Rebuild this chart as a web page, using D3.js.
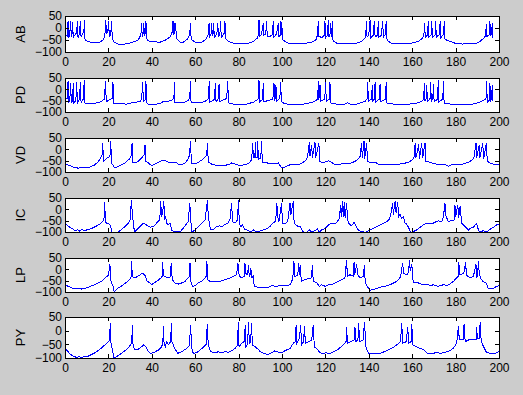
<!DOCTYPE html>
<html>
<head>
<meta charset="utf-8">
<script src="https://cdn.jsdelivr.net/npm/d3@7"></script>
<style>
    body { margin: 0; background: #cccccc; }
    svg { display: block; }
    .axis text { font-family: "Liberation Sans", Arial, sans-serif; font-size: 12px; fill: #000; }
    .axis line { stroke: #000; shape-rendering: crispEdges; }
    .ylab { font-family: "Liberation Sans", Arial, sans-serif; font-size: 13px; fill: #000; }
    .trace { fill: none; stroke: #0000ff; stroke-width: 1; shape-rendering: crispEdges; }
</style>
</head>
<body>
<div id="figure"></div>
<script>
const ctx = {
    W: 523,
    H: 395,
    LEFT: 65,
    RIGHT: 499,
    TOPS: [16, 78, 138, 198, 258, 317],
    BOTTOMS: [52, 112, 172, 232, 292, 358],
};

const cellNames = ["AB", "PD", "VD", "IC", "LP", "PY"];
const xTicks = [0, 20, 40, 60, 80, 100, 120, 140, 160, 180, 200];
const yTicks = [-100, -50, 0, 50];
const xDomain = [0, 200];
const yDomain = [-100, 50];

// traces: [time, voltage]
const abTrace = [[0,-40],[0.8,-30],[1.2,-35],[1.4,30],[1.7,-40],[2.2,-25],[2.6,28],[2.9,-38],[3.2,-30],[3.5,25],[3.8,-38],[4.5,-30],[5.4,-20],[5.7,30],[6.0,-40],[6.6,-25],[7.1,30],[7.4,-38],[8.2,-22],[8.7,-18],[8.9,32],[9.2,-45],[9.7,-52],[10.8,-57],[12,-59],[16,-59],[17.7,-49],[18.4,-28],[18.8,33],[19.1,-22],[19.7,-18],[20.1,27],[20.4,-35],[21.1,-28],[21.4,27],[21.8,-40],[22,-49],[22.6,-60],[24.6,-67],[27.6,-67],[30,-63],[32.3,-56],[33.8,-49],[35,-28],[35.3,20],[35.6,-38],[36,-25],[36.3,22],[36.6,-35],[37,-22],[37.3,27],[37.6,-40],[37.9,-49],[39.2,-57],[43.8,-59],[46,-52],[48.4,-38],[49.3,-22],[49.6,27],[49.9,-30],[50.2,27],[50.5,-25],[51,22],[51.3,-40],[51.9,-49],[53,-59],[54.5,-59],[56.4,-46],[57.5,-28],[57.8,22],[58.1,-40],[58.4,-49],[59.9,-59],[63,-59],[64.8,-49],[65.9,-28],[66.4,22],[66.7,-35],[67.3,-25],[67.6,20],[67.9,-35],[68.2,-25],[68.5,22],[68.8,-40],[70,-22],[70.4,22],[70.7,-35],[71.4,-25],[71.7,27],[72,-40],[73.4,-22],[73.7,31],[74,-45],[75.3,-56],[77.6,-63],[79.9,-63],[82.2,-66],[84.5,-63],[86.8,-56],[88.6,-42],[89.1,-30],[89.4,33],[89.7,-35],[90.5,-28],[91.4,20],[91.7,-30],[92.5,-25],[92.9,27],[93.2,-35],[94.5,-35],[95.5,-28],[96,27],[96.3,-38],[97.5,-25],[98.3,22],[98.6,-35],[99.2,-30],[99.4,27],[99.7,-30],[99.9,27],[100.2,-45],[100.3,-49],[101.4,-56],[102.8,-63],[111.4,-63],[113.7,-59],[115.7,-49],[116.4,-28],[116.7,31],[117,-35],[118.5,-40],[119.5,-30],[119.8,27],[120.1,-40],[121,-30],[121.3,33],[121.6,-38],[122.1,-28],[122.4,22],[122.7,-38],[122.9,-28],[123.2,31],[123.4,-49],[123.8,-56],[125.2,-63],[134.4,-63],[136.7,-56],[138.2,-42],[138.6,-30],[138.9,31],[139.2,-38],[140,-28],[140.6,33],[140.9,-40],[142,-30],[142.6,31],[142.9,-38],[144,-30],[144.4,27],[144.7,-38],[145.8,-30],[146.4,31],[146.7,-38],[147.6,-28],[148,27],[148.3,-45],[149,-56],[150.5,-63],[159.8,-63],[162.8,-56],[164.8,-42],[165.4,-30],[165.7,22],[166,-38],[167.1,-28],[167.4,27],[167.7,-38],[168.7,-30],[169,27],[169.3,-38],[170.5,-30],[170.8,27],[171.1,-38],[172.5,-28],[172.9,31],[173.2,-40],[174.4,-28],[174.8,31],[175.1,-45],[175.6,-49],[177.4,-56],[179.7,-63],[183.3,-67],[186,-63],[189.7,-63],[191.2,-56],[193.1,-42],[193.9,-30],[194.1,17],[194.4,-35],[195.5,-28],[195.8,31],[196.1,-35],[196.6,-25],[196.9,22],[197.2,-42]];

const pdTrace = [[0,-46],[0.8,-40],[1.2,-38],[1.4,35],[1.7,-60],[2.2,-50],[2.6,28],[2.9,-60],[3.5,-48],[3.8,28],[4.1,-60],[5,-50],[5.4,31],[5.7,-60],[6.6,-45],[7.1,31],[7.4,-60],[8.3,-45],[8.9,40],[9.2,-60],[11.5,-63],[14.6,-60],[16.9,-53],[18.1,-43],[18.7,35],[19,-55],[20.5,-45],[21.8,-40],[22.1,31],[22.4,-60],[22.7,-63],[28.4,-65],[30.7,-60],[33,-56],[34.6,-53],[35.3,-43],[35.8,31],[36.1,-55],[37,-45],[37.3,35],[37.6,-60],[38.4,-65],[42.2,-65],[44.5,-60],[45.3,-53],[46.5,-56],[49.2,-48],[50.2,-40],[50.4,31],[50.7,-60],[54.5,-60],[56.8,-48],[57.5,-40],[57.8,35],[58.1,-60],[62.2,-60],[64.5,-53],[66,-43],[66.5,35],[66.8,-56],[68.8,-45],[69.3,28],[69.6,-53],[70.6,-43],[71,25],[71.3,-55],[74.5,-40],[75,35],[75.3,-60],[77.6,-65],[80.6,-68],[83.7,-65],[86.8,-57],[88.6,-46],[89.2,-38],[89.4,40],[89.7,-55],[91,-45],[91.4,28],[91.7,-55],[95.8,-43],[96.3,28],[96.6,-50],[96.9,-40],[97.2,21],[97.5,-53],[99,-40],[99.4,31],[99.7,-55],[100.6,-60],[102.2,-65],[106.8,-68],[108.3,-68],[111.4,-63],[114.4,-56],[116,-48],[116.5,-38],[116.7,35],[117,-48],[117.5,21],[117.8,-53],[119.7,-43],[120.1,31],[120.4,-55],[121.8,-43],[122.1,31],[122.4,-60],[125.2,-65],[129,-65],[130.2,-60],[131.5,-65],[134.4,-65],[136,-60],[138.3,-53],[139.2,-43],[139.5,31],[139.8,-53],[141.3,-43],[141.6,21],[141.9,-50],[142.6,-43],[142.9,31],[143.2,-55],[144.9,-43],[145.2,25],[145.5,-55],[147.7,-43],[148,31],[148.3,-60],[151.3,-65],[157.4,-66],[161.3,-63],[164.4,-53],[165.3,-43],[165.6,28],[165.9,-50],[166.4,-43],[166.7,21],[167,-53],[168.2,-43],[168.5,31],[168.8,-53],[169.5,-43],[169.8,25],[170.1,-55],[171.7,-43],[172,40],[172.3,-55],[174.1,-43],[174.4,35],[174.7,-60],[177.4,-65],[182,-68],[186.5,-68],[189,-63],[192,-53],[194,-43],[194.3,35],[194.6,-60],[195.5,-48],[195.8,28],[196.1,-50],[196.6,-43],[196.9,21],[197.2,-50]];

const vdTrace = [[0,-68],[1.5,-69],[3,-75],[4.1,-81],[5,-78],[6.1,-84],[7.2,-79],[8.4,-82],[9.7,-78],[10.9,-81],[12.3,-75],[13.8,-68],[15.4,-53],[16.4,-38],[17.1,-24],[17.4,28],[17.7,-53],[18.6,-46],[19.5,-38],[20.7,-31],[21.1,35],[21.4,-60],[22.7,-79],[23.8,-78],[25.3,-72],[27.6,-60],[29.6,-43],[30.4,-31],[30.9,28],[31.2,-57],[32.3,-60],[33.8,-53],[35.3,-38],[36.4,-24],[36.9,21],[37.2,-53],[38.4,-60],[39.9,-72],[41.5,-65],[43,-57],[44.5,-50],[46.1,-48],[47.6,-57],[48.7,-56],[49.9,-57],[51.1,-56],[52.2,-65],[53.8,-68],[55.3,-60],[56.5,-46],[57.3,-28],[57.9,35],[58.2,-60],[59.9,-65],[61.4,-57],[63,-48],[64.5,-34],[65.3,-24],[65.7,28],[66,-57],[67.6,-65],[69.9,-71],[73,-71],[75.3,-68],[76.8,-60],[78.3,-65],[80.3,-71],[82.9,-68],[84.9,-60],[86,-46],[86.5,28],[86.8,-38],[87.5,-38],[87.7,31],[88,-38],[88.6,-38],[88.8,35],[89.1,-46],[90.2,-38],[90.6,35],[90.9,-57],[91.4,-57],[93,-60],[96,-63],[98.3,-60],[99.8,-82],[101.4,-78],[103.7,-68],[106,-65],[107.5,-68],[109,-63],[109.8,-57],[111,-48],[111.8,-31],[112.6,31],[112.9,-31],[113.7,21],[114,-38],[115.2,31],[115.5,-38],[117,28],[117.4,-53],[119,-60],[121.4,-50],[122.9,-57],[124.4,-68],[126.7,-65],[129.8,-63],[132.1,-60],[133.6,-53],[135.1,-43],[136,-31],[136.7,28],[137,-38],[137.8,35],[138.1,-43],[139,28],[139.4,-53],[141.4,-60],[142.9,-57],[144.4,-65],[147.5,-68],[151.3,-68],[155.9,-63],[158.2,-57],[159.8,-48],[160.8,-38],[161.4,28],[161.7,-38],[163,21],[163.3,-43],[164.4,28],[164.8,-38],[165.9,28],[166.3,-53],[168.3,-57],[169.8,-63],[171.3,-65],[173.6,-68],[175.1,-65],[176.6,-75],[178.2,-68],[180.5,-65],[183.5,-65],[185.9,-57],[187.4,-48],[188.4,-38],[189.4,28],[189.7,-38],[190.9,21],[191.2,-38],[192.5,28],[192.9,-43],[194.2,28],[194.6,-53],[195.9,-60],[197.4,-65],[198.9,-68],[200,-65]];

const icTrace = [[0,-69],[0.8,-69],[2.3,-79],[3.8,-88],[5,-96],[5.8,-90],[6.5,-97],[7.7,-88],[8.8,-94],[10,-91],[11.5,-87],[13,-81],[14.6,-73],[16.1,-64],[17.4,-54],[18,-39],[18.3,31],[18.6,-54],[19.2,-61],[20,-64],[20.7,-67],[21.1,-76],[21.5,-100],[23,-102],[24.6,-100],[26.1,-88],[27.6,-76],[29.2,-61],[30,-47],[30.6,40],[30.9,-2],[31.5,-61],[32,-100],[33,-91],[34.6,-76],[36.1,-61],[37.6,-69],[39.2,-79],[40.7,-76],[42.2,-61],[43.5,-47],[43.8,-24],[44.1,35],[44.5,-32],[45,-17],[45.5,35],[46,-47],[46.4,-32],[46.9,-61],[47.6,-69],[48.4,-61],[49.2,-94],[50.7,-99],[53,-99],[54.5,-84],[56,-64],[56.8,-54],[57.5,28],[58,-54],[58.5,-100],[59.9,-91],[61.4,-76],[63,-61],[64.5,-47],[65.7,43],[66,-32],[66.5,-61],[67.1,-91],[68.4,-88],[69.9,-76],[71.4,-73],[72.4,-76],[73.7,-66],[75,-61],[76,-47],[76.8,28],[77.2,-54],[78.3,-61],[79.4,-47],[80,43],[80.3,-61],[81,-76],[81.8,-69],[82.9,-88],[84.5,-94],[85.6,-100],[86.8,-91],[88.3,-100],[89.5,-99],[89.9,-94],[91.4,-91],[93,-85],[94.5,-76],[95.7,-61],[96.8,-54],[97.3,-24],[97.6,28],[98,-32],[98.6,-54],[99.8,28],[100.2,-61],[101.4,-64],[102.6,-54],[103.7,28],[104.1,-24],[105.2,35],[105.6,-61],[106.5,-69],[107.4,-76],[108.3,-73],[109.1,-88],[109.8,-100],[111.4,-100],[112.6,-91],[113.7,-100],[115.2,-94],[116.3,-85],[117.2,-100],[118.3,-91],[119.8,-84],[121.4,-69],[122.9,-61],[124.4,-64],[125.5,-54],[126.4,-39],[127,20],[127.3,-32],[127.9,35],[128.2,-32],[128.7,31],[129.1,-39],[129.8,28],[130.2,-47],[130.8,-61],[131.9,-73],[133.2,-58],[134.2,-76],[135.2,-91],[136.7,-99],[137.8,-100],[139,-100],[140.5,-91],[142,-84],[143.6,-76],[145.1,-69],[146.7,-61],[148.3,-54],[149.5,-44],[150.2,-17],[151,28],[151.3,-24],[152.1,35],[152.6,-17],[153.3,31],[153.8,-32],[154.4,-20],[155.1,-39],[155.9,-32],[156.7,-61],[157.4,-64],[158.5,-84],[159.3,-100],[160.1,-100],[162,-91],[163.5,-81],[165.1,-69],[166.7,-61],[169,-64],[170.5,-57],[172,-51],[173.6,-54],[174.4,-32],[175.1,28],[175.4,-24],[176.6,-54],[178,-50],[179.3,-47],[179.7,20],[180.1,-32],[181,20],[181.4,-39],[182.1,13],[182.8,-61],[184.3,-76],[185.9,-91],[186.7,-84],[188.2,-79],[189.7,-61],[190.5,-91],[191.2,-100],[192.8,-94],[194.3,-100],[195.9,-88],[197.4,-79],[198.9,-69],[200,-66]];

const lpTrace = [[0,-68],[1.5,-75],[3.1,-82],[4.6,-87],[6.1,-84],[7.7,-87],[9.2,-84],[10.8,-79],[12.3,-72],[13.8,-68],[15.4,-60],[16.9,-53],[18.4,-38],[19.5,-31],[20.1,-24],[20.7,25],[21,-46],[21.5,-60],[22.3,-79],[22.7,-100],[23.8,-87],[25.3,-78],[26.9,-68],[28.4,-57],[29.6,-46],[30.4,-40],[30.7,35],[31,-31],[31.6,-35],[33,-34],[34.6,-24],[35.8,-17],[36.9,-28],[37.9,-53],[39.2,-60],[39.9,-68],[41.5,-57],[43,-48],[44.2,-38],[44.8,-30],[45,31],[45.3,-24],[45.8,-31],[47.6,-38],[48.4,-34],[49,28],[49.4,-46],[50.7,-60],[52.2,-65],[53.8,-60],[55.3,-53],[56.8,-38],[57.3,-30],[57.6,28],[57.9,-53],[58.7,-75],[59.9,-72],[61.4,-60],[63,-53],[64.5,-38],[65.1,-30],[65.4,35],[65.7,-46],[66.8,-53],[68.4,-53],[69.9,-56],[71.4,-53],[73,-48],[74.5,-43],[76,-38],[77.6,-31],[79.1,-24],[79.7,28],[80,-17],[80.6,-31],[81.4,-38],[82.6,-30],[82.9,28],[83.3,-17],[84.2,-25],[84.5,21],[84.9,-31],[85.3,-25],[85.6,6],[86.2,-38],[86.8,-24],[87.2,-75],[89.9,-82],[93,-82],[95.5,-72],[97.2,-75],[99.4,-71],[101.7,-72],[103.7,-68],[104.5,-53],[105,-38],[105.5,35],[105.9,-31],[107.3,-28],[107.6,28],[108,-24],[108.4,21],[108.9,-53],[110.4,-46],[113.6,-38],[114,21],[114.4,-53],[116,-60],[117.2,-75],[118.3,-68],[119.9,-75],[121.4,-68],[123,-68],[124.4,-60],[125.9,-53],[127.5,-46],[129,-38],[129.8,43],[130.1,-31],[131.3,-24],[132.8,-30],[133.2,31],[133.5,-24],[134.4,21],[134.9,-24],[136,-38],[137.6,-30],[137.9,21],[138.4,-60],[139.3,-75],[140.5,-93],[142.9,-87],[145.1,-79],[147.5,-75],[149.8,-68],[152.1,-57],[153.6,-46],[154.7,-31],[155.6,28],[156,-17],[157.5,-24],[158.4,-10],[158.7,43],[159.1,-9],[159.8,25],[160.2,-28],[160.5,-60],[162.8,-60],[165.1,-68],[166.7,-65],[168.3,-72],[169.8,-68],[172,-75],[174.4,-68],[175.9,-71],[177.4,-65],[179,-53],[180.5,-38],[181.2,-30],[181.5,31],[181.9,-24],[183.8,-17],[184.6,31],[185,-24],[186.5,-38],[188.2,-31],[189.4,21],[189.8,-38],[190.2,-20],[190.5,35],[190.9,-17],[191.5,-38],[192.5,-53],[194,-60],[195.1,-85],[197.4,-85],[198.9,-75],[200,-72]];

const pyTrace = [[0,-65],[0.8,-71],[2.3,-85],[3.8,-93],[5.4,-98],[6.6,-95],[7.7,-99],[9.2,-93],[10.3,-95],[11.5,-90],[13.8,-81],[16.1,-68],[18.4,-52],[20,-40],[20.5,-34],[20.9,29],[21.2,-46],[22,-77],[22.6,-100],[23.8,-95],[26.1,-83],[28.4,-68],[30.3,-52],[30.8,-40],[31,21],[31.4,-59],[32.3,-71],[33.8,-68],[35.3,-59],[36.1,-52],[37.2,-59],[38.4,-77],[39.5,-83],[40.7,-81],[43,-71],[44.5,-59],[45.1,-46],[45.3,17],[45.6,-40],[46.2,-59],[46.9,-40],[47.6,-52],[48.7,-40],[49,27],[49.3,-40],[50.2,-59],[51.9,-83],[53.8,-77],[56,-65],[57.3,-56],[57.9,21],[58.3,-59],[59.1,-83],[60.6,-81],[62.2,-71],[64,-59],[65,-50],[65.6,24],[66,-52],[67.1,-77],[69.1,-81],[70.7,-77],[72.2,-81],[73.7,-77],[75.3,-79],[76.8,-74],[78.3,-65],[79.4,-56],[79.9,30],[80.2,-59],[81.4,-46],[82.5,-40],[83.1,21],[83.4,-59],[84.2,-50],[84.5,30],[85,-46],[85.6,-40],[85.9,27],[86.4,-52],[87.6,-59],[89.5,-71],[89.9,-77],[91.4,-83],[93.7,-87],[95.2,-80],[96.7,-74],[97.5,-77],[98.9,-79],[100.3,-79],[101.4,-73],[103.7,-65],[105.2,-46],[106.2,-40],[106.5,21],[106.8,-46],[108,-28],[108.6,21],[109,-52],[110,-40],[110.3,17],[110.8,-46],[112.2,-40],[113.7,-34],[114.4,21],[114.9,-59],[116.3,-68],[117.5,-81],[118.7,-83],[120.3,-81],[121.8,-85],[123.6,-77],[125.9,-68],[128.3,-52],[129.5,-40],[129.8,15],[130.1,-46],[131.9,-40],[133.2,-34],[133.6,15],[134,-40],[135,-34],[135.3,27],[135.8,-40],[137.4,-34],[138,32],[138.7,-59],[139.8,-83],[141.4,-85],[143.6,-85],[145.9,-81],[148.3,-73],[150.5,-65],[152.9,-52],[154.6,-40],[155.2,27],[155.6,-46],[157.3,-40],[157.9,15],[158.4,-46],[159.5,-40],[159.8,24],[160.3,-52],[161.3,-56],[163.6,-65],[165.1,-68],[166.7,-81],[168.3,-85],[169.8,-83],[171.3,-79],[172.8,-83],[175.1,-79],[177.1,-74],[178.9,-65],[180.5,-46],[181.3,17],[181.7,-34],[183.5,-34],[183.9,24],[184.4,-40],[186,-34],[189.4,-34],[189.7,15],[190,-28],[191,-28],[191.3,30],[191.8,-40],[192.9,-59],[194.3,-81],[196.7,-83],[198.3,-83],[200,-77]];

const traces = [abTrace, pdTrace, vdTrace, icTrace, lpTrace, pyTrace];

function createViz() {
    console.log("Using D3 v" + d3.version);

    const svg = d3.select("#figure")
        .append("svg")
        .attr("width", ctx.W)
        .attr("height", ctx.H);

    svg.append("rect")
        .attr("width", ctx.W)
        .attr("height", ctx.H)
        .attr("fill", "#cccccc");

    cellNames.forEach((name, i) => drawPanel(svg, i, name, traces[i]));
}

function drawPanel(svg, i, name, trace) {
    const top = ctx.TOPS[i];
    const bottom = ctx.BOTTOMS[i];

    const x = d3.scaleLinear().domain(xDomain).range([ctx.LEFT, ctx.RIGHT]);
    const y = d3.scaleLinear().domain(yDomain).range([bottom, top]);

    const g = svg.append("g").attr("class", "panel");

    g.append("rect")
        .attr("x", ctx.LEFT)
        .attr("y", top)
        .attr("width", ctx.RIGHT - ctx.LEFT)
        .attr("height", bottom - top)
        .attr("fill", "#fff");

    const clipId = "clip" + i;
    g.append("clipPath")
        .attr("id", clipId)
        .append("rect")
        .attr("x", ctx.LEFT)
        .attr("y", top)
        .attr("width", ctx.RIGHT - ctx.LEFT)
        .attr("height", bottom - top + 1);

    const line = d3.line()
        .x(d => x(d[0]))
        .y(d => y(d[1]));

    g.append("path")
        .datum(trace)
        .attr("class", "trace")
        .attr("clip-path", `url(#${clipId})`)
        .attr("d", line);

    //ticks point inwards on all four sides, labels only bottom and left
    g.append("g")
        .attr("class", "axis")
        .attr("transform", `translate(0,${bottom})`)
        .call(d3.axisBottom(x).tickValues(xTicks).tickSizeInner(-4).tickSizeOuter(0).tickPadding(5));

    g.append("g")
        .attr("class", "axis")
        .attr("transform", `translate(${ctx.LEFT},0)`)
        .call(d3.axisLeft(y).tickValues(yTicks).tickSizeInner(-4).tickSizeOuter(0).tickPadding(3));

    g.append("g")
        .attr("class", "axis")
        .attr("transform", `translate(0,${top})`)
        .call(d3.axisTop(x).tickValues(xTicks).tickSizeInner(-4).tickSizeOuter(0).tickFormat(""));

    g.append("g")
        .attr("class", "axis")
        .attr("transform", `translate(${ctx.RIGHT},0)`)
        .call(d3.axisRight(y).tickValues(yTicks).tickSizeInner(-4).tickSizeOuter(0).tickFormat(""));

    g.selectAll(".axis .domain").remove();

    g.append("rect")
        .attr("x", ctx.LEFT + 0.5)
        .attr("y", top + 0.5)
        .attr("width", ctx.RIGHT - ctx.LEFT)
        .attr("height", bottom - top)
        .attr("fill", "none")
        .attr("stroke", "#000")
        .attr("shape-rendering", "crispEdges");

    g.append("text")
        .attr("class", "ylab")
        .attr("transform", `translate(20,${(top + bottom) / 2}) rotate(-90)`)
        .attr("text-anchor", "middle")
        .attr("dy", "0.35em")
        .text(name);
}

createViz();
</script>
</body>
</html>
